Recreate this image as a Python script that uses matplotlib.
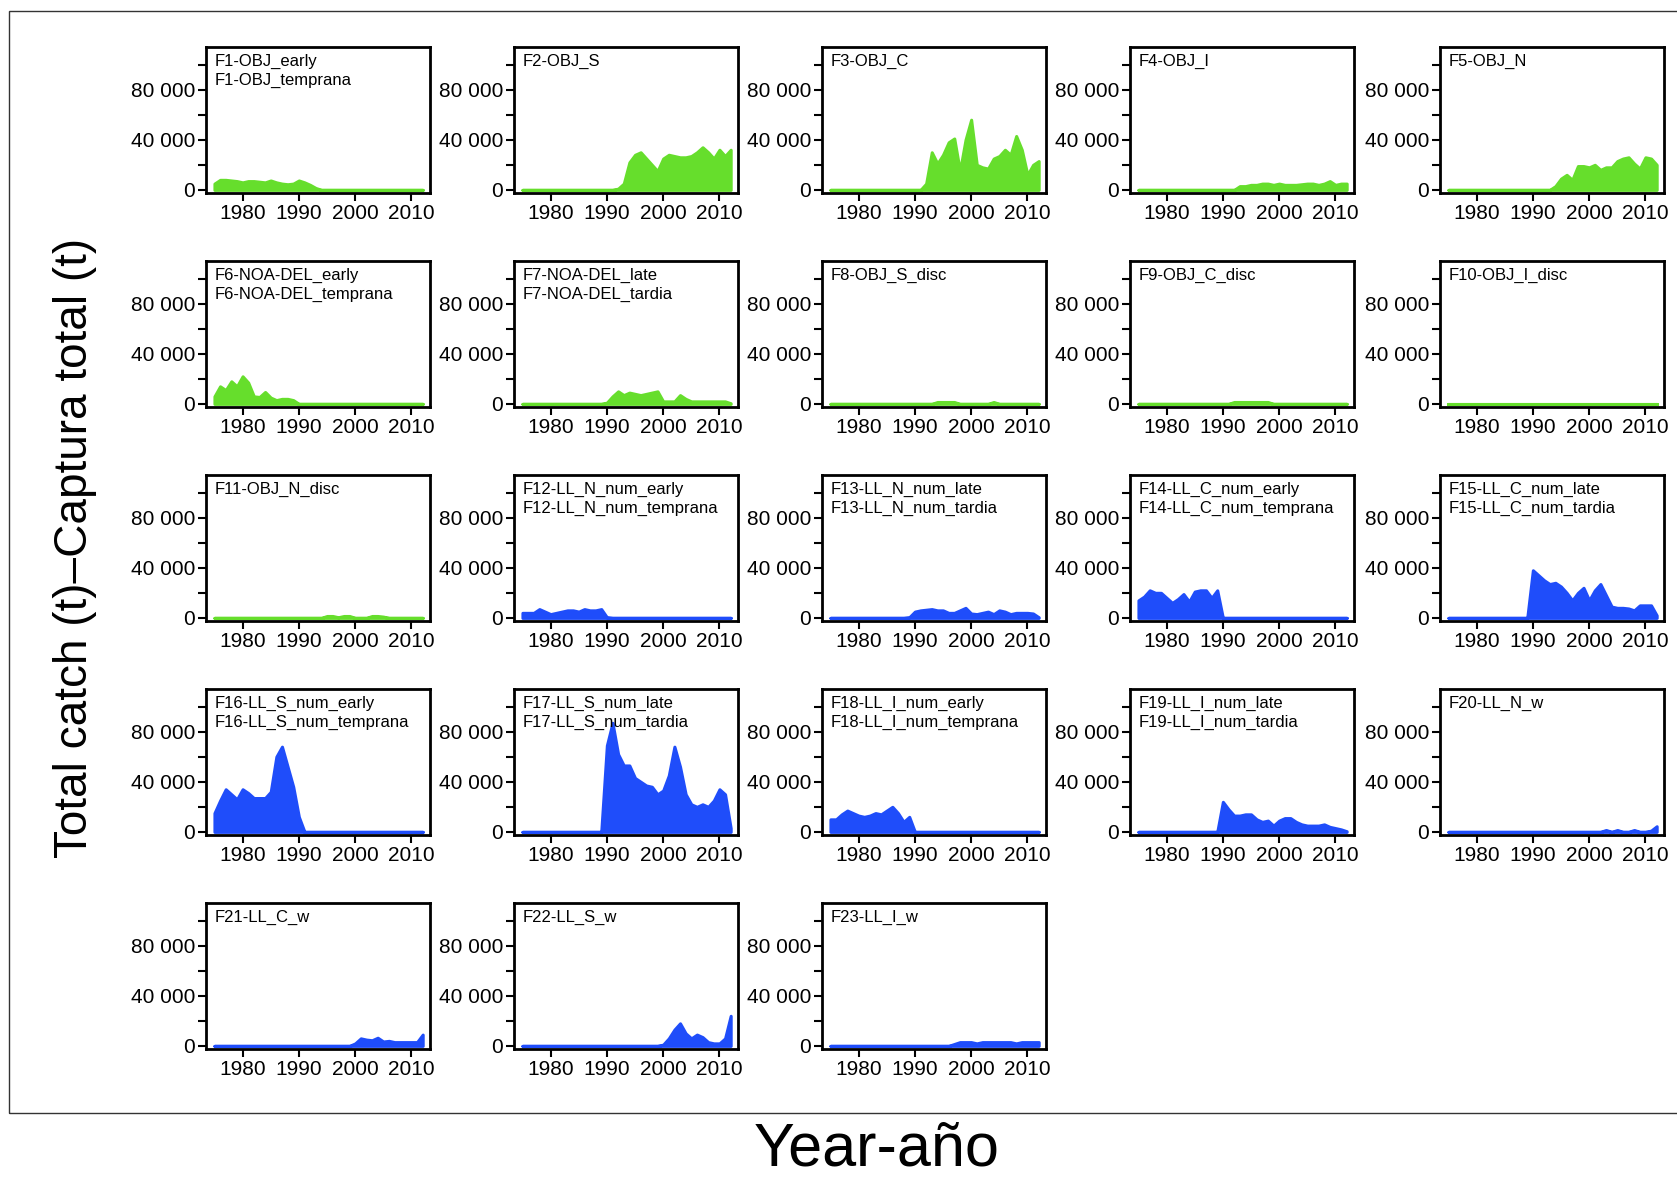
import numpy as np
import matplotlib
matplotlib.use('Agg')
import matplotlib.pyplot as plt
from matplotlib.patches import Rectangle

plt.rcParams['font.family'] = ['Liberation Sans Narrow', 'Liberation Sans', 'DejaVu Sans']

years = np.arange(1975, 2013)

# catch per fleet, 1975-2012 (t)
f1 = [5000, 8000, 8000, 7500, 7000, 6000, 7000, 7000, 6500, 6000,
      7500, 6000, 5000, 4500, 5000, 7500, 6000, 4000, 1500, 0,
      0, 0, 0, 0, 0, 0, 0, 0, 0, 0,
      0, 0, 0, 0, 0, 0, 0, 0]
f2 = [0, 0, 0, 0, 0, 0, 0, 0, 0, 0,
      0, 0, 0, 0, 0, 0, 0, 1000, 5000, 22000,
      28000, 30000, 25000, 20000, 15000, 25000, 28000, 27000, 26000, 26000,
      27000, 30000, 34000, 30000, 25000, 32000, 27000, 32000]
f3 = [0, 0, 0, 0, 0, 0, 0, 0, 0, 0,
      0, 0, 0, 0, 0, 0, 0, 5000, 30000, 21000,
      28000, 38000, 41000, 15000, 40000, 56000, 20000, 18000, 17000, 25000,
      27000, 32000, 28000, 43000, 32000, 12000, 20000, 23000]
f4 = [0, 0, 0, 0, 0, 0, 0, 0, 0, 0,
      0, 0, 0, 0, 0, 0, 0, 0, 3000, 3000,
      4000, 4000, 5000, 5000, 4000, 5000, 4000, 4000, 4000, 4500,
      5000, 5000, 4000, 5000, 7000, 4000, 5000, 5000]
f5 = [0, 0, 0, 0, 0, 0, 0, 0, 0, 0,
      0, 0, 0, 0, 0, 0, 0, 0, 0, 3000,
      9000, 12000, 8000, 19000, 19000, 18000, 20000, 16000, 18000, 18000,
      23000, 25000, 26000, 21000, 17000, 26000, 25000, 20000]
f6 = [6000, 14000, 11000, 18000, 14000, 22000, 17000, 6000, 5500, 9500,
      5000, 3000, 4000, 4000, 3000, 0, 0, 0, 0, 0,
      0, 0, 0, 0, 0, 0, 0, 0, 0, 0,
      0, 0, 0, 0, 0, 0, 0, 0]
f7 = [0, 0, 0, 0, 0, 0, 0, 0, 0, 0,
      0, 0, 0, 0, 0, 1000, 6000, 10000, 7000, 9000,
      8000, 7000, 8000, 9000, 10000, 2000, 2000, 2000, 7000, 4000,
      2000, 2000, 2000, 2000, 2000, 2000, 2000, 500]
f8 = [0, 0, 0, 0, 0, 0, 0, 0, 0, 0,
      0, 0, 0, 0, 0, 0, 0, 0, 0, 1500,
      1500, 1500, 1500, 0, 0, 0, 0, 0, 0, 1500,
      0, 0, 0, 0, 0, 0, 0, 0]
f9 = [0, 0, 0, 0, 0, 0, 0, 0, 0, 0,
      0, 0, 0, 0, 0, 0, 0, 1500, 1500, 1500,
      1500, 1500, 1500, 1500, 0, 0, 0, 0, 0, 0,
      0, 0, 0, 0, 0, 0, 0, 0]
f10 = [0, 0, 0, 0, 0, 0, 0, 0, 0, 0,
       0, 0, 0, 0, 0, 0, 0, 0, 0, 0,
       0, 0, 0, 0, 0, 0, 0, 0, 0, 0,
       0, 0, 0, 0, 0, 0, 0, 0]
f11 = [0, 0, 0, 0, 0, 0, 0, 0, 0, 0,
       0, 0, 0, 0, 0, 0, 0, 0, 0, 0,
       1500, 1500, 500, 1500, 1500, 0, 0, 0, 1500, 1500,
       1000, 0, 0, 0, 0, 0, 0, 0]
f12 = [4000, 4000, 4000, 7000, 5000, 3000, 4000, 5000, 6000, 6000,
       5000, 7000, 6000, 6000, 7000, 500, 0, 0, 0, 0,
       0, 0, 0, 0, 0, 0, 0, 0, 0, 0,
       0, 0, 0, 0, 0, 0, 0, 0]
f13 = [0, 0, 0, 0, 0, 0, 0, 0, 0, 0,
       0, 0, 0, 0, 500, 5000, 6000, 6500, 7000, 6000,
       6000, 4000, 4000, 6000, 8000, 3500, 3000, 4000, 5000, 3000,
       6000, 5000, 3000, 4000, 4000, 4000, 3500, 500]
f14 = [14000, 17000, 22000, 20000, 20000, 16000, 12000, 15000, 19000, 13000,
       21000, 22000, 22000, 16000, 22000, 0, 0, 0, 0, 0,
       0, 0, 0, 0, 0, 0, 0, 0, 0, 0,
       0, 0, 0, 0, 0, 0, 0, 0]
f15 = [0, 0, 0, 0, 0, 0, 0, 0, 0, 0,
       0, 0, 0, 0, 0, 38000, 34000, 30000, 27000, 28000,
       25000, 20000, 14000, 20000, 24000, 14000, 22000, 27000, 18000, 9000,
       8000, 8000, 7500, 6000, 10000, 10000, 10000, 2000]
f16 = [15000, 25000, 34000, 30000, 26000, 34000, 31000, 27000, 27000, 27000,
       32000, 60000, 68000, 52000, 36000, 12000, 0, 0, 0, 0,
       0, 0, 0, 0, 0, 0, 0, 0, 0, 0,
       0, 0, 0, 0, 0, 0, 0, 0]
f17 = [0, 0, 0, 0, 0, 0, 0, 0, 0, 0,
       0, 0, 0, 0, 0, 69000, 87000, 62000, 53000, 53000,
       43000, 40000, 37000, 36000, 30000, 33000, 45000, 68000, 52000, 30000,
       22000, 20000, 22000, 20000, 25000, 34000, 30000, 3000]
f18 = [10000, 10000, 14000, 17000, 15000, 13000, 12000, 13000, 15000, 14000,
       17000, 20000, 15000, 8000, 12000, 0, 0, 0, 0, 0,
       0, 0, 0, 0, 0, 0, 0, 0, 0, 0,
       0, 0, 0, 0, 0, 0, 0, 0]
f19 = [0, 0, 0, 0, 0, 0, 0, 0, 0, 0,
       0, 0, 0, 0, 0, 24000, 18000, 13000, 13000, 14000,
       14000, 10000, 8000, 9000, 5000, 9000, 11000, 11000, 8000, 6000,
       5000, 5000, 5000, 6000, 4000, 3000, 2000, 500]
f20 = [0, 0, 0, 0, 0, 0, 0, 0, 0, 0,
       0, 0, 0, 0, 0, 0, 0, 0, 0, 0,
       0, 0, 0, 0, 0, 0, 0, 0, 1500, 0,
       1500, 0, 0, 1500, 0, 0, 1000, 4500]
f21 = [0, 0, 0, 0, 0, 0, 0, 0, 0, 0,
       0, 0, 0, 0, 0, 0, 0, 0, 0, 0,
       0, 0, 0, 0, 0, 2000, 6000, 5000, 4500, 6500,
       3500, 4000, 3000, 3000, 3000, 3000, 3000, 9000]
f22 = [0, 0, 0, 0, 0, 0, 0, 0, 0, 0,
       0, 0, 0, 0, 0, 0, 0, 0, 0, 0,
       0, 0, 0, 0, 0, 1000, 6000, 13000, 18000, 10000,
       6000, 9000, 7000, 3000, 2000, 2000, 6000, 24000]
f23 = [0, 0, 0, 0, 0, 0, 0, 0, 0, 0,
       0, 0, 0, 0, 0, 0, 0, 0, 0, 0,
       0, 0, 1500, 3000, 3000, 3000, 2000, 3000, 3000, 3000,
       3000, 3000, 3000, 2000, 3000, 3000, 3000, 3000]

fleet_names = ['F1-OBJ_early\nF1-OBJ_temprana', 'F2-OBJ_S', 'F3-OBJ_C', 'F4-OBJ_I', 'F5-OBJ_N',
               'F6-NOA-DEL_early\nF6-NOA-DEL_temprana', 'F7-NOA-DEL_late\nF7-NOA-DEL_tardia',
               'F8-OBJ_S_disc', 'F9-OBJ_C_disc', 'F10-OBJ_I_disc',
               'F11-OBJ_N_disc', 'F12-LL_N_num_early\nF12-LL_N_num_temprana',
               'F13-LL_N_num_late\nF13-LL_N_num_tardia', 'F14-LL_C_num_early\nF14-LL_C_num_temprana',
               'F15-LL_C_num_late\nF15-LL_C_num_tardia',
               'F16-LL_S_num_early\nF16-LL_S_num_temprana', 'F17-LL_S_num_late\nF17-LL_S_num_tardia',
               'F18-LL_I_num_early\nF18-LL_I_num_temprana', 'F19-LL_I_num_late\nF19-LL_I_num_tardia',
               'F20-LL_N_w', 'F21-LL_C_w', 'F22-LL_S_w', 'F23-LL_I_w']
catches = [f1, f2, f3, f4, f5, f6, f7, f8, f9, f10, f11, f12,
           f13, f14, f15, f16, f17, f18, f19, f20, f21, f22, f23]

GREEN = '#66de2c'
BLUE = '#1f4dfa'

W, H = 1677, 1179
fig = plt.figure(figsize=(W / 100, H / 100), dpi=100)

# outer frame
fig.patches.append(Rectangle((9 / W, 1 - 1113 / H), 1.0, 1102 / H, transform=fig.transFigure,
                             fill=False, lw=1, ec='#333333'))

lefts = [206, 514, 822, 1130, 1440]   # panel positions in pixels
tops = [47, 261, 475, 689, 903]
pw, ph = 224, 146

for i in range(len(catches)):
    r, c = divmod(i, 5)
    ax = fig.add_axes([lefts[c] / W, 1 - (tops[r] + ph) / H, pw / W, ph / H])
    colour = GREEN if i < 11 else BLUE
    ax.fill_between(years, catches[i], color=colour, lw=2.2)
    ax.set_xlim(1973.5, 2013.3)
    ax.set_ylim(-2500, 114000)
    ax.set_xticks([1980, 1990, 2000, 2010])
    ax.set_yticks([0, 40000, 80000])
    ax.set_yticklabels(['0', '40 000', '80 000'])
    ax.set_yticks([20000, 60000, 100000], minor=True)
    ax.tick_params(axis='both', which='both', direction='out', length=6, width=1.5,
                   labelsize=15, pad=2)
    for s in ax.spines.values():
        s.set_linewidth(2)
    ax.text(0.04, 0.95, fleet_names[i], transform=ax.transAxes, ha='left', va='top',
            fontsize=12, linespacing=1.3)

fig.text(0.045, 0.535, 'Total catch (t)\u2013Captura total (t)', rotation=90,
         ha='center', va='center', fontsize=33, family=['Liberation Sans', 'DejaVu Sans'])
fig.text(0.523, 0.025, 'Year-año', ha='center', va='center', fontsize=44,
         family=['Liberation Sans', 'DejaVu Sans'])

fig.savefig('out.png', dpi=100)
